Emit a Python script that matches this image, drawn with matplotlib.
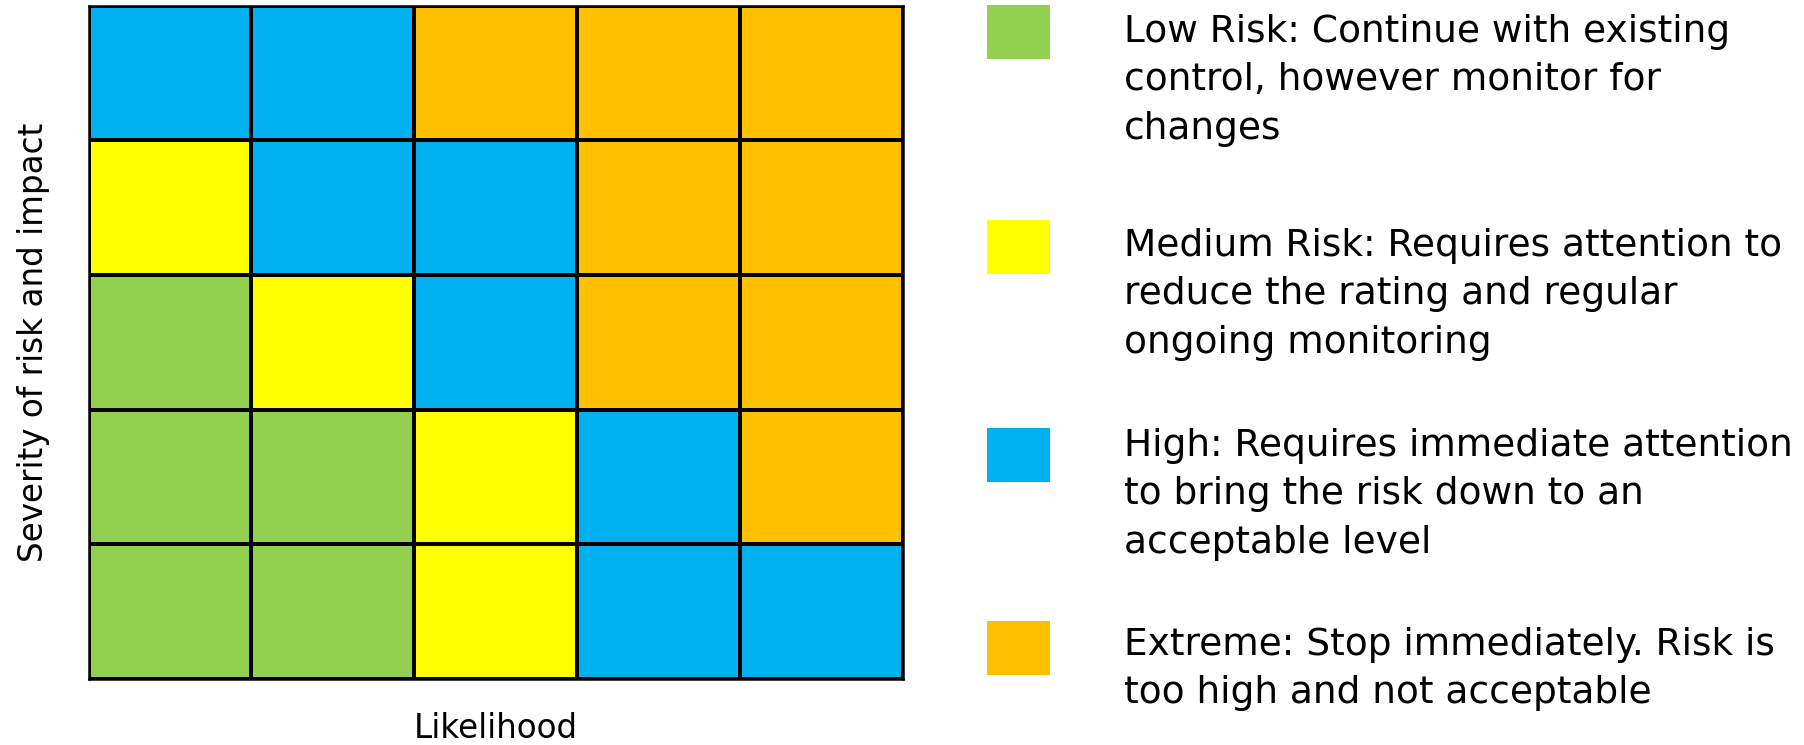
import matplotlib.pyplot as plt
import numpy as np
from matplotlib.colors import ListedColormap
from matplotlib.patches import Rectangle

# risk levels: 0 low, 1 medium, 2 high, 3 extreme (top row first)
risk_grid = [
    [2, 2, 3, 3, 3],
    [1, 2, 2, 3, 3],
    [0, 1, 2, 3, 3],
    [0, 0, 1, 2, 3],
    [0, 0, 1, 2, 2],
]
level_colors = ["#92D050", "#FFFF00", "#00B0F0", "#FFC000"]
level_texts = [
    "Low Risk: Continue with existing\ncontrol, however monitor for\nchanges",
    "Medium Risk: Requires attention to\nreduce the rating and regular\nongoing monitoring",
    "High: Requires immediate attention\nto bring the risk down to an\nacceptable level",
    "Extreme: Stop immediately. Risk is\ntoo high and not acceptable",
]
x_label = "Likelihood"
y_label = "Severity of risk and impact"

plt.rcParams["font.family"] = ["DejaVu Sans"]

W, H = 1804, 745
fig = plt.figure(figsize=(W / 100, H / 100), dpi=100)

# matrix
ax = fig.add_axes([88.6 / W, 1 - 679 / H, 814.4 / W, 673.2 / H])
grid = np.array(risk_grid)
cmap = ListedColormap(level_colors)
ax.pcolormesh(grid[::-1], cmap=cmap, vmin=-0.5, vmax=3.5,
              edgecolors="black", linewidth=1.6)
ax.set_xlim(0, grid.shape[1])
ax.set_ylim(0, grid.shape[0])
ax.set_xticks([])
ax.set_yticks([])
for s in ax.spines.values():
    s.set_linewidth(1.8)
ax.set_xlabel(x_label, fontsize=23.5, labelpad=24)
ax.set_ylabel(y_label, fontsize=23.5, labelpad=28)

# legend drawn in pixel coords
lax = fig.add_axes([0, 0, 1, 1])
lax.set_xlim(0, W)
lax.set_ylim(H, 0)
lax.axis("off")
square_tops = [5, 220, 428, 621]
text_tops = [14, 228, 428, 627]
for color, text, sq_top, tx_top in zip(level_colors, level_texts, square_tops, text_tops):
    lax.add_patch(Rectangle((987, sq_top), 63, 54, facecolor=color, edgecolor="none"))
    lax.text(1124, tx_top, text, fontsize=27, va="top", ha="left", linespacing=1.44)

fig.savefig("out.png", dpi=100)
